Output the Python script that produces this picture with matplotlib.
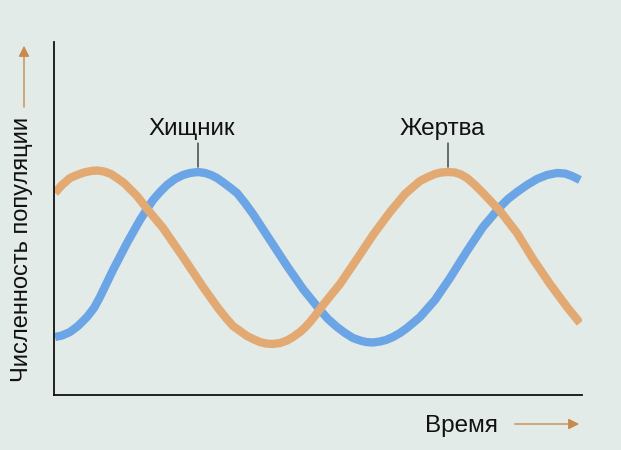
import matplotlib
matplotlib.use("Agg")
import matplotlib.pyplot as plt

# ---------------- Data ---------------- #
prey_time = [1, 8, 16, 23, 30, 37, 43, 50, 57, 63, 70, 76, 83, 94, 109, 129, 149, 164, 172, 179,
             186, 193, 199, 206, 212, 219, 226, 233, 239, 246, 251, 256, 262, 269, 286, 303, 319,
             336, 351, 359, 366, 374, 381, 387, 394, 401, 407, 413, 421, 429, 437, 446, 463, 479,
             496, 513, 526]
prey_pop = [202, 210, 217, 220, 222.5, 224, 224.5, 223.5, 221, 217, 212, 206, 199, 185, 167, 138,
            108, 87, 77, 69, 64, 59, 56, 53, 51.5, 51, 52, 54.5, 58, 63, 67.5, 73, 80.5, 90, 111,
            136, 160, 183, 201, 208, 214, 218, 221, 222.5, 223, 222.5, 220.5, 217, 210, 202, 193.5,
            184, 162, 136, 111, 88, 72]

pred_time = [1, 8, 16, 24, 33, 40, 46, 59, 73, 86, 93, 99, 106, 113, 121, 129, 136, 144, 151, 157,
             163, 170, 176, 183, 191, 199, 216, 233, 249, 266, 274, 283, 291, 299, 306, 312, 319,
             326, 332, 339, 346, 353, 359, 366, 381, 396, 413, 429, 446, 454, 463, 473, 483, 493,
             503, 511, 518, 526]
pred_pop = [58, 59.5, 63, 69, 78, 87, 98, 125, 152, 175, 186, 195, 203, 210, 216, 220, 222, 223,
            222, 220, 217, 212, 207.5, 202, 192, 181, 155, 129, 106, 85, 76, 68, 62, 57, 54.5, 53,
            52.5, 53.5, 55, 58, 62, 67, 72, 78, 95, 117, 144, 168, 188, 196, 203, 210, 216, 220,
            222, 221.5, 219, 215]

PRED_LABEL = "Хищник"
PREY_LABEL = "Жертва"
X_LABEL = "Время"
Y_LABEL = "Численность популяции"

# ---------------- Style ---------------- #
BG = "#e3ebe8"
BLUE = "#6ca5e6"
ORANGE = "#e2aa72"
ARROW = "#c98a4e"
plt.rcParams["font.family"] = ["Liberation Sans", "DejaVu Sans"]

W, H = 621, 450
fig = plt.figure(figsize=(W / 100, H / 100), dpi=100, facecolor=BG)
ax = fig.add_axes([54 / W, (H - 395) / H, 528 / W, 353 / H])
ax.set_facecolor(BG)
ax.set_xlim(0, 528)
ax.set_ylim(0, 353)

ax.plot(pred_time, pred_pop, color=BLUE, lw=6.0, solid_joinstyle="round", solid_capstyle="butt")
ax.plot(prey_time, prey_pop, color=ORANGE, lw=6.0, solid_joinstyle="round", solid_capstyle="butt")

for s in ["top", "right"]:
    ax.spines[s].set_visible(False)
for s in ["left", "bottom"]:
    ax.spines[s].set_linewidth(1.3)
    ax.spines[s].set_color("#111111")
ax.set_xticks([])
ax.set_yticks([])

# peak labels with short leader lines
def label_peak(times, pops, text, idx):
    t, p = times[idx], pops[idx]
    ax.annotate("", xy=(t, p), xytext=(0, 29), textcoords="offset pixels",
                arrowprops=dict(arrowstyle="-", color="#222222", lw=0.9, shrinkA=0, shrinkB=3.5))
    ax.annotate(text, xy=(t, p), xytext=(-6, 37), textcoords="offset pixels",
                ha="center", va="baseline", fontsize=17.5, color="#111111")

label_peak(pred_time, pred_pop, PRED_LABEL, pred_pop.index(max(pred_pop[:30])))
label_peak(prey_time, prey_pop, PREY_LABEL, prey_pop.index(max(prey_pop[30:])))

# axis titles with arrows
fig.text(22 / W, (H - 249) / H, Y_LABEL, rotation=90, ha="center", va="center",
         fontsize=17, color="#111111")
fig.text(425 / W, (H - 432) / H, X_LABEL, ha="left", va="baseline",
         fontsize=17.5, color="#111111")

ax.annotate("", xy=(24, H - 43), xycoords="figure pixels", xytext=(24, H - 110),
            arrowprops=dict(arrowstyle="-|>", color=ARROW, lw=1.0, mutation_scale=16))
ax.annotate("", xy=(582, H - 424), xycoords="figure pixels", xytext=(512, H - 424),
            arrowprops=dict(arrowstyle="-|>", color=ARROW, lw=1.0, mutation_scale=16))

fig.savefig("out.png", dpi=100, facecolor=BG)
